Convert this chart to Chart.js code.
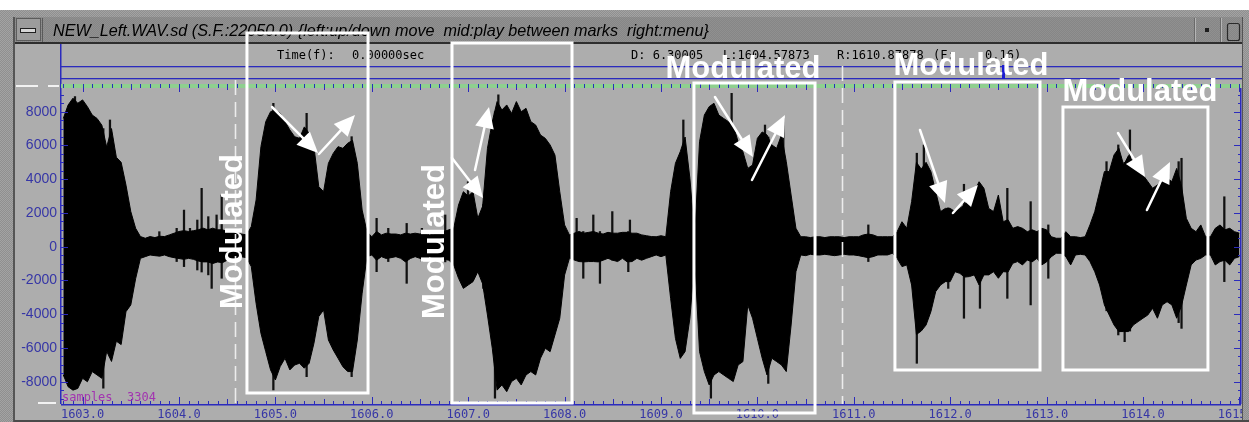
<!DOCTYPE html>
<html>
<head>
<meta charset="utf-8">
<title>NEW_Left.WAV.sd</title>
<script src="https://cdn.jsdelivr.net/npm/chart.js@4.4.0/dist/chart.umd.min.js"></script>
<style>
  html, body { margin: 0; padding: 0; background: #ffffff; overflow: hidden; }
  canvas { display: block; }
</style>
</head>
<body>
<canvas id="wave" width="1249" height="422"></canvas>
<script>
// ---- waveform envelope (time in s, amplitude in sample units) ----
const envTime = [
  1602.80,1602.85,1602.90,1602.95,1603.00,1603.05,1603.10,1603.15,1603.20,1603.25,
  1603.30,1603.35,1603.40,1603.45,1603.50,1603.55,1603.60,1603.65,1603.70,1603.75,
  1603.80,1603.85,1603.90,1603.95,1604.00,1604.05,1604.10,1604.15,1604.20,1604.25,
  1604.30,1604.35,1604.40,1604.45,1604.50,1604.55,1604.60,1604.65,1604.70,1604.75,
  1604.80,1604.85,1604.90,1604.95,1605.00,1605.05,1605.10,1605.15,1605.20,1605.25,
  1605.30,1605.35,1605.40,1605.45,1605.50,1605.55,1605.60,1605.65,1605.70,1605.75,
  1605.80,1605.85,1605.90,1605.95,1606.00,1606.05,1606.10,1606.15,1606.20,1606.25,
  1606.30,1606.35,1606.40,1606.45,1606.50,1606.55,1606.60,1606.65,1606.70,1606.75,
  1606.80,1606.85,1606.90,1606.95,1607.00,1607.05,1607.10,1607.15,1607.20,1607.25,
  1607.30,1607.35,1607.40,1607.45,1607.50,1607.55,1607.60,1607.65,1607.70,1607.75,
  1607.80,1607.85,1607.90,1607.95,1608.00,1608.05,1608.10,1608.15,1608.20,1608.25,
  1608.30,1608.35,1608.40,1608.45,1608.50,1608.55,1608.60,1608.65,1608.70,1608.75,
  1608.80,1608.85,1608.90,1608.95,1609.00,1609.05,1609.10,1609.15,1609.20,1609.25,
  1609.30,1609.35,1609.40,1609.45,1609.50,1609.55,1609.60,1609.65,1609.70,1609.75,
  1609.80,1609.85,1609.90,1609.95,1610.00,1610.05,1610.10,1610.15,1610.20,1610.25,
  1610.30,1610.35,1610.40,1610.45,1610.50,1610.55,1610.60,1610.65,1610.70,1610.75,
  1610.80,1610.85,1610.90,1610.95,1611.00,1611.05,1611.10,1611.15,1611.20,1611.25,
  1611.30,1611.35,1611.40,1611.45,1611.50,1611.55,1611.60,1611.65,1611.70,1611.75,
  1611.80,1611.85,1611.90,1611.95,1612.00,1612.05,1612.10,1612.15,1612.20,1612.25,
  1612.30,1612.35,1612.40,1612.45,1612.50,1612.55,1612.60,1612.65,1612.70,1612.75,
  1612.80,1612.85,1612.90,1612.95,1613.00,1613.05,1613.10,1613.15,1613.20,1613.25,
  1613.30,1613.35,1613.40,1613.45,1613.50,1613.55,1613.60,1613.65,1613.70,1613.75,
  1613.80,1613.85,1613.90,1613.95,1614.00,1614.05,1614.10,1614.15,1614.20,1614.25,
  1614.30,1614.35,1614.40,1614.45,1614.50,1614.55,1614.60,1614.65,1614.70,1614.75,
  1614.80,1614.85,1614.90,1614.95,1615.00
];
const envHigh = [
  7600,8400,8800,8500,8700,8300,7800,7600,7200,5900,
  7000,5300,5000,3650,2080,1090,600,500,600,540,
  620,600,700,800,900,950,900,950,1000,1100,
  1000,1100,1000,1000,900,900,800,750,700,1190,
  2770,5930,7410,8000,8100,7900,7410,6920,6520,6420,
  7100,6720,5930,3560,3260,4940,5530,5930,5830,6130,
  6300,4940,2170,890,590,900,700,800,750,750,
  700,800,750,800,750,800,700,750,800,900,
  1000,1090,2470,3260,3000,3260,1680,2400,5830,7410,
  8600,8100,8400,7900,8600,8000,8200,7410,7210,6620,
  6420,6030,5430,3260,1290,700,800,900,800,850,
  900,800,750,850,800,800,850,850,800,800,
  700,650,600,590,650,590,3260,4940,5630,6500,
  4050,590,6220,7800,8300,8500,7800,7600,7410,7200,
  6220,5630,4640,4840,6420,6800,6620,6030,5830,6620,
  5040,3060,1090,590,590,540,590,590,540,590,
  590,590,540,590,590,590,700,750,700,590,
  590,590,590,890,1480,1090,2670,5000,4600,5000,
  4450,3260,2080,2270,2270,2080,2270,2500,2870,3260,
  3850,3460,2270,2080,3060,1480,1600,1090,1190,1090,
  890,1000,890,1090,1000,590,500,500,890,590,
  590,540,590,1290,2080,3260,4450,4450,5440,5830,
  4840,5400,5040,4450,4250,3860,3460,3660,3860,4050,
  3860,4640,3600,1680,1090,890,1290,590,590,1090,
  1290,1000,1090,890,800
];
const envLow = [
  -7600,-8300,-8500,-8400,-7800,-8000,-7400,-7600,-7800,-6200,
  -6800,-5600,-5800,-3850,-3450,-1900,-690,-590,-490,-530,
  -560,-490,-590,-650,-700,-750,-690,-750,-850,-900,
  -900,-1000,-900,-950,-800,-700,-650,-600,-650,-1180,
  -3360,-5130,-6220,-7300,-7900,-7100,-6610,-7300,-7010,-6910,
  -7200,-6910,-5720,-4140,-3750,-5530,-6120,-6610,-7110,-7400,
  -7400,-5530,-2760,-590,-490,-800,-590,-700,-650,-590,
  -690,-900,-700,-590,-690,-800,-590,-690,-700,-750,
  -800,-1080,-1870,-2470,-2270,-2070,-1480,-2200,-4050,-6020,
  -8500,-8190,-8590,-7990,-7800,-8190,-7600,-7400,-7600,-6610,
  -6020,-6220,-5230,-4240,-1680,-690,-790,-880,-900,-880,
  -880,-900,-800,-690,-800,-880,-690,-900,-880,-690,
  -800,-690,-590,-490,-590,-490,-3060,-5430,-6620,-6220,
  -4240,-690,-6220,-7400,-8190,-7600,-7400,-7600,-7800,-7990,
  -7010,-6810,-3450,-4240,-5430,-6610,-7600,-6610,-6810,-7010,
  -7400,-4640,-1480,-490,-530,-450,-490,-490,-450,-490,
  -530,-490,-450,-490,-490,-530,-590,-650,-590,-490,
  -490,-490,-390,-690,-1180,-1080,-2270,-5200,-5000,-4640,
  -3850,-2660,-2270,-2070,-2070,-1480,-1580,-1800,-1770,-1670,
  -2270,-1670,-1670,-1480,-1870,-1480,-1500,-980,-880,-1080,
  -790,-900,-690,-1080,-900,-590,-390,-390,-590,-1080,
  -490,-450,-490,-880,-1480,-2270,-3450,-4050,-4640,-5030,
  -5030,-5030,-4640,-4440,-4240,-4050,-3650,-4240,-3450,-3260,
  -3450,-4240,-3500,-2270,-1080,-790,-690,-490,-490,-1080,
  -880,-800,-1080,-690,-590
];

// ---- isolated peaks (thin strokes on top of the envelope) ----
const spikeTime = [
  1602.921,1603.215,1603.284,1603.796,1603.976,1604.052,1604.114,1604.190,1604.235,1604.304,
  1604.339,1604.390,1604.443,1604.979,1605.324,1605.791,1606.050,1606.171,1606.362,1606.520,
  1606.762,1606.998,1607.157,1607.278,1607.313,1608.125,1608.194,1608.298,1608.367,1608.495,
  1608.661,1608.678,1609.232,1609.518,1609.733,1610.079,1610.113,1610.269,1611.151,1611.654,
  1611.727,1611.980,1612.143,1612.309,1612.593,1612.835,1613.018,1613.622,1613.744,1613.810,
  1613.865,1614.370,1614.400,1614.844
];
const spikeHigh = [
  8890,7000,7510,890,1090,2170,1090,1580,3460,1780,
  1000,1880,3060,8500,7900,6520,1680,1090,1380,1090,
  1880,3850,2500,8000,9000,1680,900,1880,900,2080,
  900,1580,7510,8000,9090,7210,6500,7600,1290,5540,
  6030,2300,3700,3600,3460,2670,1290,5040,6030,5000,
  6920,5040,5240,2960
];
const spikeLow = [
  -8000,-8390,-6500,-500,-880,-1180,-600,-1380,-1500,-1670,
  -2470,-900,-1870,-8490,-7700,-7700,-1480,-880,-2170,-880,
  -900,-2000,-2470,-8980,-8000,-700,-1870,-800,-2170,-800,
  -1480,-800,-6000,-8980,-7500,-6500,-8100,-6800,-880,-6910,
  -4500,-2470,-4240,-3650,-3060,-3450,-1870,-3800,-5230,-5630,
  -5000,-4500,-4840,-2070
];

// ---- axis ranges and tick values ----
const X_MIN = 1602.776, X_MAX = 1615.017;
const Y_MIN = -9322, Y_MAX = 9405;
const xTickValues = [1603,1604,1605,1606,1607,1608,1609,1610,1611,1612,1613,1614,1615];
const yTickValues = [-8000,-6000,-4000,-2000,0,2000,4000,6000,8000];

// ---- markers and header values ----
const markL = 1604.57873;
const markR = 1610.87878;
const cursorTime = 1612.548;
const sampleCount = 3304;
const titleText = 'NEW_Left.WAV.sd (S.F.:22050.0) {left:up/down move  mid:play between marks  right:menu}';

// ---- annotation overlay, in data units ----
// boxes: [t0, t1, top value, bottom value]
const noteBoxes = [
  [1604.705, 1605.961, 12664, -8670],
  [1606.832, 1608.077, 12071, -9262],
  [1609.342, 1610.598, 9701, -9855],
  [1611.427, 1612.932, 9760, -7307],
  [1613.170, 1614.674, 8279, -7307]
];
// arrows: [t0, v0, t1, v1] (head at the second point)
const noteArrows = [
  [1604.965, 8279, 1605.442, 5553],
  [1605.452, 5493, 1605.826, 7805],
  [1606.832, 5256, 1607.154, 2886],
  [1607.071, 4545, 1607.216, 8279],
  [1609.560, 8871, 1609.954, 5316],
  [1609.944, 3953, 1610.286, 7805],
  [1611.687, 6915, 1611.946, 2590],
  [1612.029, 1997, 1612.288, 3656],
  [1613.741, 6738, 1614.021, 4130],
  [1614.041, 2175, 1614.280, 5019]
];
// labels: [t, v, vertical?]  (vertical ones given at their centre, others at baseline centre)
const noteLabels = [
  [1604.534, 901, true],
  [1606.630, 308, true],
  [1609.851, 9997, false],
  [1612.216, 10175, false],
  [1613.969, 8634, false]
];
const noteText = 'Modulated';

const BLUE = '#2b2bbd';
const LABEL_BLUE = '#3636a6';

function dotPattern(ctx, base, dot) {
  const p = document.createElement('canvas');
  p.width = 2; p.height = 2;
  const q = p.getContext('2d');
  q.fillStyle = base; q.fillRect(0, 0, 2, 2);
  q.fillStyle = dot; q.fillRect(0, 0, 1, 1); q.fillRect(1, 1, 1, 1);
  return ctx.createPattern(p, 'repeat');
}

function drawArrow(c, x0, y0, x1, y1) {
  const a = Math.atan2(y1 - y0, x1 - x0);
  const L = 21, hw = 9.5;
  const bx = x1 - L * Math.cos(a), by = y1 - L * Math.sin(a);
  c.beginPath(); c.moveTo(x0, y0); c.lineTo(bx, by); c.stroke();
  c.beginPath();
  c.moveTo(x1, y1);
  c.lineTo(bx + hw * Math.sin(a), by - hw * Math.cos(a));
  c.lineTo(bx - hw * Math.sin(a), by + hw * Math.cos(a));
  c.closePath(); c.fill();
}

// window chrome, header readouts, rulers and the white notes
const chrome = {
  id: 'chrome',
  beforeDraw(chart) {
    const c = chart.ctx, W = chart.width, H = chart.height;
    const a = chart.chartArea;
    c.save();
    c.fillStyle = '#adadad'; c.fillRect(0, 0, W, H);
    c.fillStyle = '#ffffff'; c.fillRect(0, 0, W, 10);

    // outer frame (top and left)
    c.fillStyle = dotPattern(c, '#8f8f8f', '#a3a3a3');
    c.fillRect(0, 10, W, 7);
    c.fillRect(0, 10, 14, H - 10);
    c.fillStyle = '#555555'; c.fillRect(13, 17, 2, H - 17);

    // title bar
    c.fillStyle = dotPattern(c, '#868686', '#909090');
    c.fillRect(15, 17, 1228, 25);
    c.fillStyle = '#2e2e2e'; c.fillRect(15, 42, 1228, 2);

    // left button
    c.fillStyle = '#9c9c9c'; c.fillRect(16, 18, 25, 23);
    c.strokeStyle = '#5c5c5c'; c.lineWidth = 1; c.strokeRect(16.5, 18.5, 24, 22);
    c.fillStyle = '#d6d6d6'; c.fillRect(20, 28, 16, 5);
    c.strokeStyle = '#202020'; c.strokeRect(20.5, 28.5, 15, 4);
    c.fillStyle = '#5a5a5a'; c.fillRect(42, 18, 1, 24);

    // right buttons
    c.fillStyle = '#6a6a6a'; c.fillRect(1194, 18, 1, 24); c.fillRect(1220, 18, 1, 24);
    c.fillStyle = '#b5b5b5'; c.fillRect(1195, 18, 1, 24); c.fillRect(1221, 18, 1, 24);
    c.fillStyle = '#1e1e1e'; c.fillRect(1205, 28, 4, 4);
    c.strokeStyle = '#2a2a2a'; c.lineWidth = 1.2;
    c.beginPath(); c.roundRect(1227.5, 23.5, 12, 17, 2); c.stroke();

    // title
    c.fillStyle = '#000000';
    c.textBaseline = 'alphabetic'; c.textAlign = 'left';
    c.font = 'italic 17px "Liberation Sans"';
    const fs = 17 * 657 / c.measureText(titleText).width;
    c.font = 'italic ' + fs.toFixed(2) + 'px "Liberation Sans"';
    c.fillText(titleText, 53, 36);

    // header readouts
    c.font = '12px "DejaVu Sans Mono"';
    c.fillStyle = '#000000';
    c.fillText('Time(f):', 277, 59);
    c.fillText('0.00000sec', 352, 59);
    c.fillText('D: ' + (markR - markL).toFixed(5), 631, 59);
    c.fillText('L:' + markL.toFixed(5), 723, 59);
    c.fillText('R:' + markR.toFixed(5), 837, 59);
    c.fillText('(F:', 933, 59);
    c.fillText('0.16)', 985, 59);

    // header guide lines
    c.fillStyle = BLUE;
    c.fillRect(a.left - 1, 44, 1.5, a.bottom - 44);
    c.fillRect(a.left, 66, a.right - a.left + 2, 1.3);
    c.fillRect(a.left, 78, a.right - a.left + 2, 1.3);
    c.restore();
  },
  afterDatasetsDraw(chart) {
    const c = chart.ctx, a = chart.chartArea;
    const xs = chart.scales.x, ys = chart.scales.y;
    c.save();
    // top ruler
    c.fillStyle = '#8fcf8f'; c.fillRect(a.left, 84, a.right - a.left, 4);
    c.fillStyle = BLUE;
    for (let k = Math.ceil(X_MIN * 10); k <= Math.floor(X_MAX * 10); k++) {
      const px = Math.round(xs.getPixelForValue(k / 10));
      const len = (k % 10 === 0) ? 7 : (k % 5 === 0) ? 5 : 3;
      c.fillRect(px, 84, 1, len + 1);
      c.fillRect(px, a.bottom - len, 1, len);
    }
    c.fillRect(a.left, a.bottom, a.right - a.left, 1.5);
    // side rulers
    for (let v = -9000; v <= 9000; v += 500) {
      const py = Math.round(ys.getPixelForValue(v));
      const len = (v % 2000 === 0) ? 7 : 3;
      c.fillRect(a.left, py, len, 1);
      c.fillRect(a.right - len, py, len, 1);
    }
    c.fillRect(a.right - 1, a.top, 1.5, a.bottom - a.top);
    c.restore();
  },
  afterDraw(chart) {
    const c = chart.ctx, a = chart.chartArea, W = chart.width, H = chart.height;
    const xs = chart.scales.x, ys = chart.scales.y;
    const X = t => xs.getPixelForValue(t), Y = v => ys.getPixelForValue(v);
    c.save();

    // play marks
    c.strokeStyle = '#ececec'; c.lineWidth = 1.6; c.setLineDash([15, 7]);
    c.beginPath();
    c.moveTo(Math.round(X(markL)) + 0.5, 80); c.lineTo(Math.round(X(markL)) + 0.5, a.bottom);
    c.moveTo(Math.round(X(markR)) + 0.5, 66); c.lineTo(Math.round(X(markR)) + 0.5, a.bottom);
    c.stroke();
    c.setLineDash([]);
    // cursor tick in the header
    c.fillStyle = '#1c1cd0'; c.fillRect(Math.round(X(cursorTime)) - 1, 65, 3, 14);

    // small white dashes at the level marks
    c.fillStyle = '#f2f2f2';
    c.fillRect(16, 85, 22, 2); c.fillRect(48, 85, 11, 2);
    c.fillRect(38, 402, 18, 2);

    // sample counter
    c.font = '12px "DejaVu Sans Mono"'; c.fillStyle = '#a233b0';
    c.textAlign = 'left'; c.textBaseline = 'alphabetic';
    c.fillText('samples  ' + sampleCount, 62, 401);

    // white notes
    c.strokeStyle = '#ffffff'; c.fillStyle = '#ffffff';
    c.lineWidth = 3; c.lineJoin = 'miter';
    noteBoxes.forEach(b => {
      const x0 = X(b[0]), x1 = X(b[1]), y0 = Y(b[2]), y1 = Y(b[3]);
      c.strokeRect(x0, y0, x1 - x0, y1 - y0);
    });
    c.lineWidth = 2.5; c.lineCap = 'round';
    noteArrows.forEach(r => drawArrow(c, X(r[0]), Y(r[1]), X(r[2]), Y(r[3])));
    c.font = 'bold 31px "Liberation Sans"';
    c.textAlign = 'center'; c.textBaseline = 'alphabetic';
    noteLabels.forEach(l => {
      const px = X(l[0]), py = Y(l[1]);
      if (l[2]) {
        c.save(); c.translate(px, py); c.rotate(-Math.PI / 2);
        c.fillText(noteText, 0, 11.5); c.restore();
      } else {
        c.fillText(noteText, px, py);
      }
    });

    // right and bottom frame
    c.fillStyle = dotPattern(c, '#8f8f8f', '#a3a3a3');
    c.fillRect(1243, 10, W - 1243, H - 10);
    c.fillStyle = '#555555'; c.fillRect(1242, 17, 1, H - 17);
    c.fillStyle = '#4a4a4a'; c.fillRect(14, 420, W - 14, 2);
    c.restore();
  }
};

const ctx = document.getElementById('wave').getContext('2d');
new Chart(ctx, {
  type: 'line',
  data: {
    datasets: [
      {
        label: 'high',
        data: envTime.map((t, i) => ({ x: t, y: envHigh[i] })),
        borderColor: '#000000', backgroundColor: '#000000',
        borderWidth: 1, pointRadius: 0, tension: 0, fill: '+1'
      },
      {
        label: 'low',
        data: envTime.map((t, i) => ({ x: t, y: envLow[i] })),
        borderColor: '#000000', backgroundColor: '#000000',
        borderWidth: 1, pointRadius: 0, tension: 0, fill: false
      },
      {
        type: 'bar',
        label: 'peaks',
        data: spikeTime.map((t, i) => ({ x: t, y: [spikeLow[i], spikeHigh[i]] })),
        backgroundColor: '#111111', borderWidth: 0,
        barThickness: 1.6, grouped: false
      }
    ]
  },
  options: {
    responsive: false,
    animation: false,
    devicePixelRatio: 1,
    events: [],
    layout: { padding: { top: 88, right: 8, left: 0, bottom: 0 } },
    plugins: { legend: { display: false }, tooltip: { enabled: false } },
    scales: {
      x: {
        type: 'linear', position: 'bottom', min: X_MIN, max: X_MAX, offset: false,
        grid: { display: false, drawTicks: false }, border: { display: false },
        afterBuildTicks: s => { s.ticks = xTickValues.map(v => ({ value: v })); },
        ticks: {
          autoSkip: false, maxRotation: 0, minRotation: 0, padding: 4,
          color: LABEL_BLUE, font: { family: 'DejaVu Sans Mono', size: 12 },
          callback: v => Number(v).toFixed(1)
        },
        afterFit: s => { s.height = 18; s.paddingLeft = 0; s.paddingRight = 0; }
      },
      y: {
        type: 'linear', position: 'left', min: Y_MIN, max: Y_MAX,
        grid: { display: false, drawTicks: false }, border: { display: false },
        afterBuildTicks: s => { s.ticks = yTickValues.map(v => ({ value: v })); },
        ticks: {
          padding: 4,
          color: LABEL_BLUE, font: { family: 'Liberation Sans', size: 14 },
          callback: v => String(v)
        },
        afterFit: s => { s.width = 61; s.paddingTop = 0; s.paddingBottom = 0; }
      }
    }
  },
  plugins: [chrome]
});
</script>
</body>
</html>
